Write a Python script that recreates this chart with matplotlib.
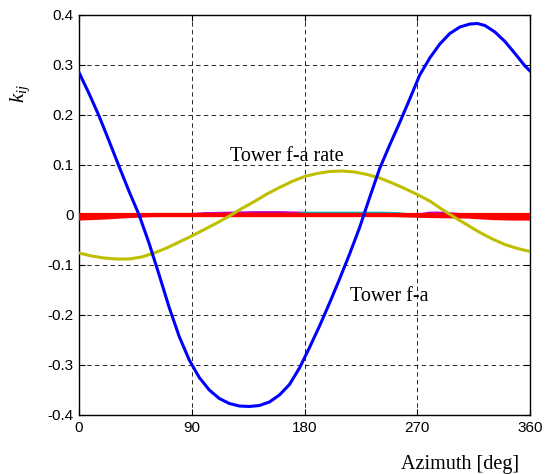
import matplotlib
matplotlib.use("Agg")
import matplotlib.pyplot as plt

plt.rcParams["mathtext.fontset"] = "custom"
plt.rcParams["mathtext.it"] = "Liberation Serif:italic"
plt.rcParams["mathtext.rm"] = "Liberation Serif"

# ---- data ----
blue_az = [0, 8, 16, 24, 32, 40, 48, 56, 64, 72, 80, 88, 96, 104, 112, 120, 128, 136, 144, 152,
           160, 168, 176, 184, 192, 200, 208, 216, 224, 232, 240, 248, 256, 264, 272, 280, 288,
           296, 304, 312, 318, 324, 332, 340, 348, 356, 360]
blue_k = [0.285, 0.243, 0.198, 0.148, 0.097, 0.047, 0.0, -0.057, -0.12, -0.185, -0.243, -0.29,
          -0.325, -0.35, -0.367, -0.377, -0.382, -0.383, -0.381, -0.374, -0.36, -0.339, -0.306,
          -0.265, -0.222, -0.176, -0.128, -0.078, -0.025, 0.035, 0.093, 0.14, 0.185, 0.232, 0.28,
          0.314, 0.342, 0.363, 0.376, 0.382, 0.383, 0.379, 0.366, 0.347, 0.323, 0.298, 0.288]

yel_az = [0, 10, 20, 30, 40, 50, 60, 70, 80, 90, 100, 110, 120, 130, 140, 150, 160, 170, 180,
          190, 200, 210, 220, 230, 240, 250, 260, 270, 280, 290, 300, 310, 320, 330, 340, 350, 360]
yel_k = [-0.076, -0.082, -0.086, -0.088, -0.088, -0.084, -0.076, -0.066, -0.054, -0.042, -0.029,
         -0.016, -0.002, 0.013, 0.027, 0.042, 0.055, 0.067, 0.077, 0.083, 0.087, 0.088, 0.086,
         0.081, 0.074, 0.064, 0.053, 0.041, 0.028, 0.011, -0.005, -0.02, -0.035, -0.048, -0.059,
         -0.067, -0.073]

mag_az = [0, 60, 90, 100, 120, 140, 160, 180, 190, 270, 280, 290, 300, 310, 360]
mag_k = [0.0, 0.0, 0.001, 0.003, 0.004, 0.005, 0.005, 0.004, 0.0, 0.0, 0.004, 0.004, 0.002, 0.0, 0.0]

cyan_az = [0, 170, 180, 200, 220, 240, 255, 265, 360]
cyan_k = [0.0, 0.0, 0.004, 0.004, 0.004, 0.004, 0.003, 0.0, 0.0]

red1_az = [0, 90, 180, 270, 360]
red1_k = [0.0, 0.0, 0.0, 0.0, 0.0]

red2_az = [0, 20, 40, 60, 250, 280, 310, 330, 345, 360]
red2_k = [-0.007, -0.005, -0.002, 0.0, 0.0, -0.002, -0.003, -0.006, -0.007, -0.007]

xticks = [0, 90, 180, 270, 360]
yticks = [-0.4, -0.3, -0.2, -0.1, 0, 0.1, 0.2, 0.3, 0.4]
yticklabels = ["-0.4", "-0.3", "-0.2", "-0.1", "0", "0.1", "0.2", "0.3", "0.4"]

# ---- figure ----
fig = plt.figure(figsize=(5.46, 4.74), dpi=100)
ax = fig.add_axes([79/546, 1 - 415/474, 451/546, 400/474])

ax.plot(mag_az, mag_k, color="#BF00BF", lw=2.0, zorder=3)
ax.plot(cyan_az, cyan_k, color="#00BFBF", lw=2.0, zorder=3)
ax.plot(red2_az, red2_k, color="#FF0000", lw=3.0, zorder=4)
ax.plot(red1_az, red1_k, color="#FF0000", lw=3.0, zorder=4)
ax.plot(yel_az, yel_k, color="#BFBF00", lw=2.2, zorder=5)
ax.plot(blue_az, blue_k, color="#0000FF", lw=2.2, zorder=6)

ax.set_xlim(0, 360)
ax.set_ylim(-0.4, 0.4)
ax.set_xticks(xticks)
ax.set_yticks(yticks)
ax.set_yticklabels(yticklabels)
ax.tick_params(direction="in", top=True, right=True, length=4, width=0.8,
               labelsize=11, pad=4)
for lab in ax.get_xticklabels() + ax.get_yticklabels():
    lab.set_fontfamily("Liberation Sans")
for s in ax.spines.values():
    s.set_linewidth(1.0)

ax.grid(True, color="black", linestyle=(0, (4.5, 3.5)), linewidth=0.7, alpha=0.85)
ax.set_axisbelow(True)

ax.text(120.3, 0.117, "Tower f-a rate", fontfamily="Liberation Serif", fontsize=14.5,
        va="center", ha="left", zorder=7)
ax.text(216, -0.163, "Tower f-a", fontfamily="Liberation Serif", fontsize=14.5,
        va="center", ha="left", zorder=7)

fig.text(20/546, 1 - 93/474, r"$k_{ij}$", fontsize=15,
         rotation=90, ha="center", va="center")
fig.text(460/546, 1 - 465/474, "Azimuth [deg]", fontfamily="Liberation Serif", fontsize=14.5,
         ha="center", va="center")

fig.savefig("out.png", dpi=100)
